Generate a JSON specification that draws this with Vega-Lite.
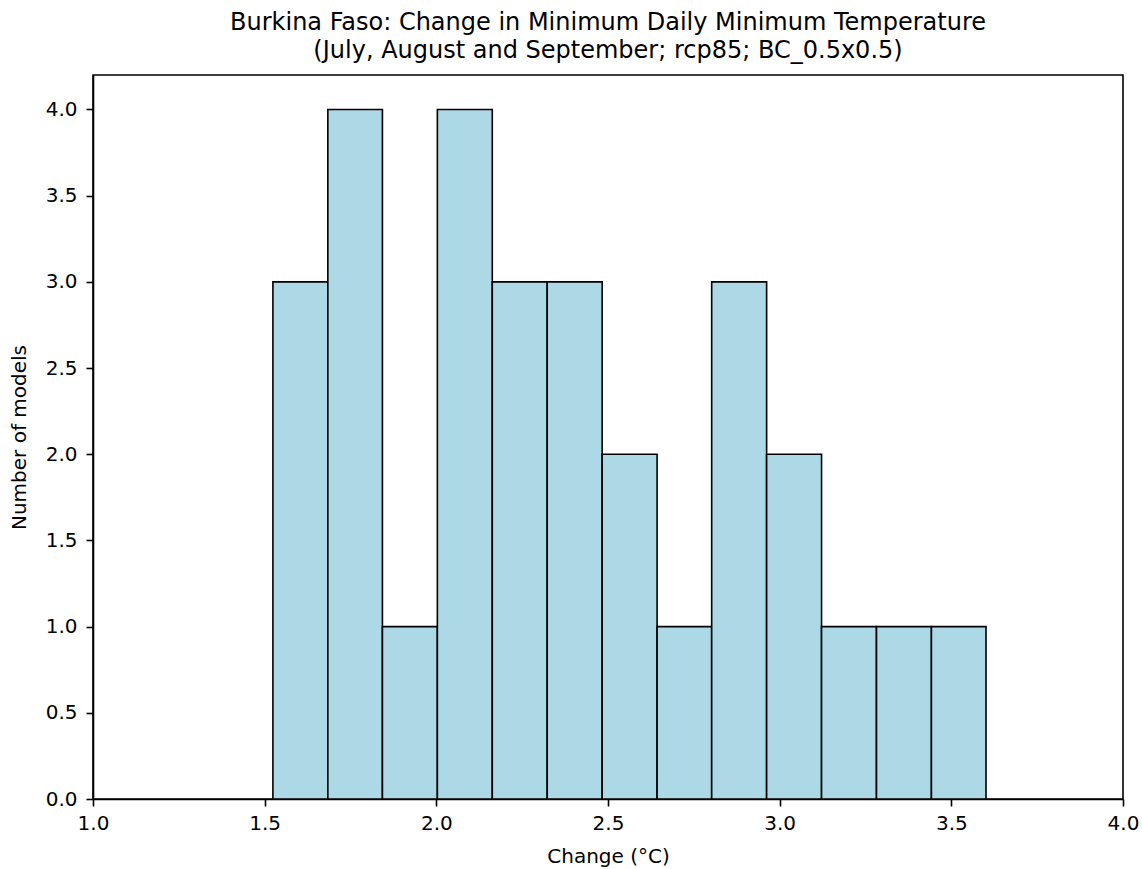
{
  "$schema": "https://vega.github.io/schema/vega-lite/v6.json",
  "width": 1030,
  "height": 724,
  "autosize": {"type": "none"},
  "padding": {"left": 93, "top": 75, "right": 19, "bottom": 70},
  "background": "white",
  "title": {
    "text": ["Burkina Faso: Change in Minimum Daily Minimum Temperature", "(July, August and September; rcp85; BC_0.5x0.5)"],
    "font": "DejaVu Sans",
    "fontSize": 24,
    "fontWeight": "normal",
    "color": "black",
    "anchor": "middle",
    "lineHeight": 28,
    "offset": 12
  },
  "data": {
    "values": [
      {"start": 1.524, "end": 1.684, "count": 3},
      {"start": 1.684, "end": 1.843, "count": 4},
      {"start": 1.843, "end": 2.003, "count": 1},
      {"start": 2.003, "end": 2.163, "count": 4},
      {"start": 2.163, "end": 2.323, "count": 3},
      {"start": 2.323, "end": 2.483, "count": 3},
      {"start": 2.483, "end": 2.643, "count": 2},
      {"start": 2.643, "end": 2.802, "count": 1},
      {"start": 2.802, "end": 2.962, "count": 3},
      {"start": 2.962, "end": 3.122, "count": 2},
      {"start": 3.122, "end": 3.282, "count": 1},
      {"start": 3.282, "end": 3.442, "count": 1},
      {"start": 3.442, "end": 3.601, "count": 1}
    ]
  },
  "mark": {"type": "bar", "fill": "#add8e6", "stroke": "black", "strokeWidth": 1.6},
  "encoding": {
    "x": {
      "field": "start",
      "type": "quantitative",
      "scale": {"domain": [1, 4], "nice": false, "zero": false},
      "axis": {"values": [1, 1.5, 2, 2.5, 3, 3.5, 4], "format": ".1f", "title": "Change (°C)"}
    },
    "x2": {"field": "end"},
    "y": {
      "field": "count",
      "type": "quantitative",
      "scale": {"domain": [0, 4.2], "nice": false},
      "axis": {"values": [0, 0.5, 1, 1.5, 2, 2.5, 3, 3.5, 4], "format": ".1f", "title": "Number of models"}
    },
    "y2": {"datum": 0}
  },
  "config": {
    "view": {"stroke": "black", "strokeWidth": 1.6},
    "axis": {
      "grid": false,
      "domainColor": "black",
      "domainWidth": 1.6,
      "tickColor": "black",
      "tickWidth": 1.6,
      "tickSize": 7,
      "labelFont": "DejaVu Sans",
      "labelFontSize": 20,
      "labelColor": "black",
      "labelPadding": 5,
      "titleFont": "DejaVu Sans",
      "titleFontSize": 20,
      "titleFontWeight": "normal",
      "titleColor": "black"
    },
    "axisX": {"titlePadding": 13, "labelPadding": 7, "labelFlush": false},
    "axisY": {"titlePadding": 16, "labelPadding": 9, "labelFlush": false}
  }
}
